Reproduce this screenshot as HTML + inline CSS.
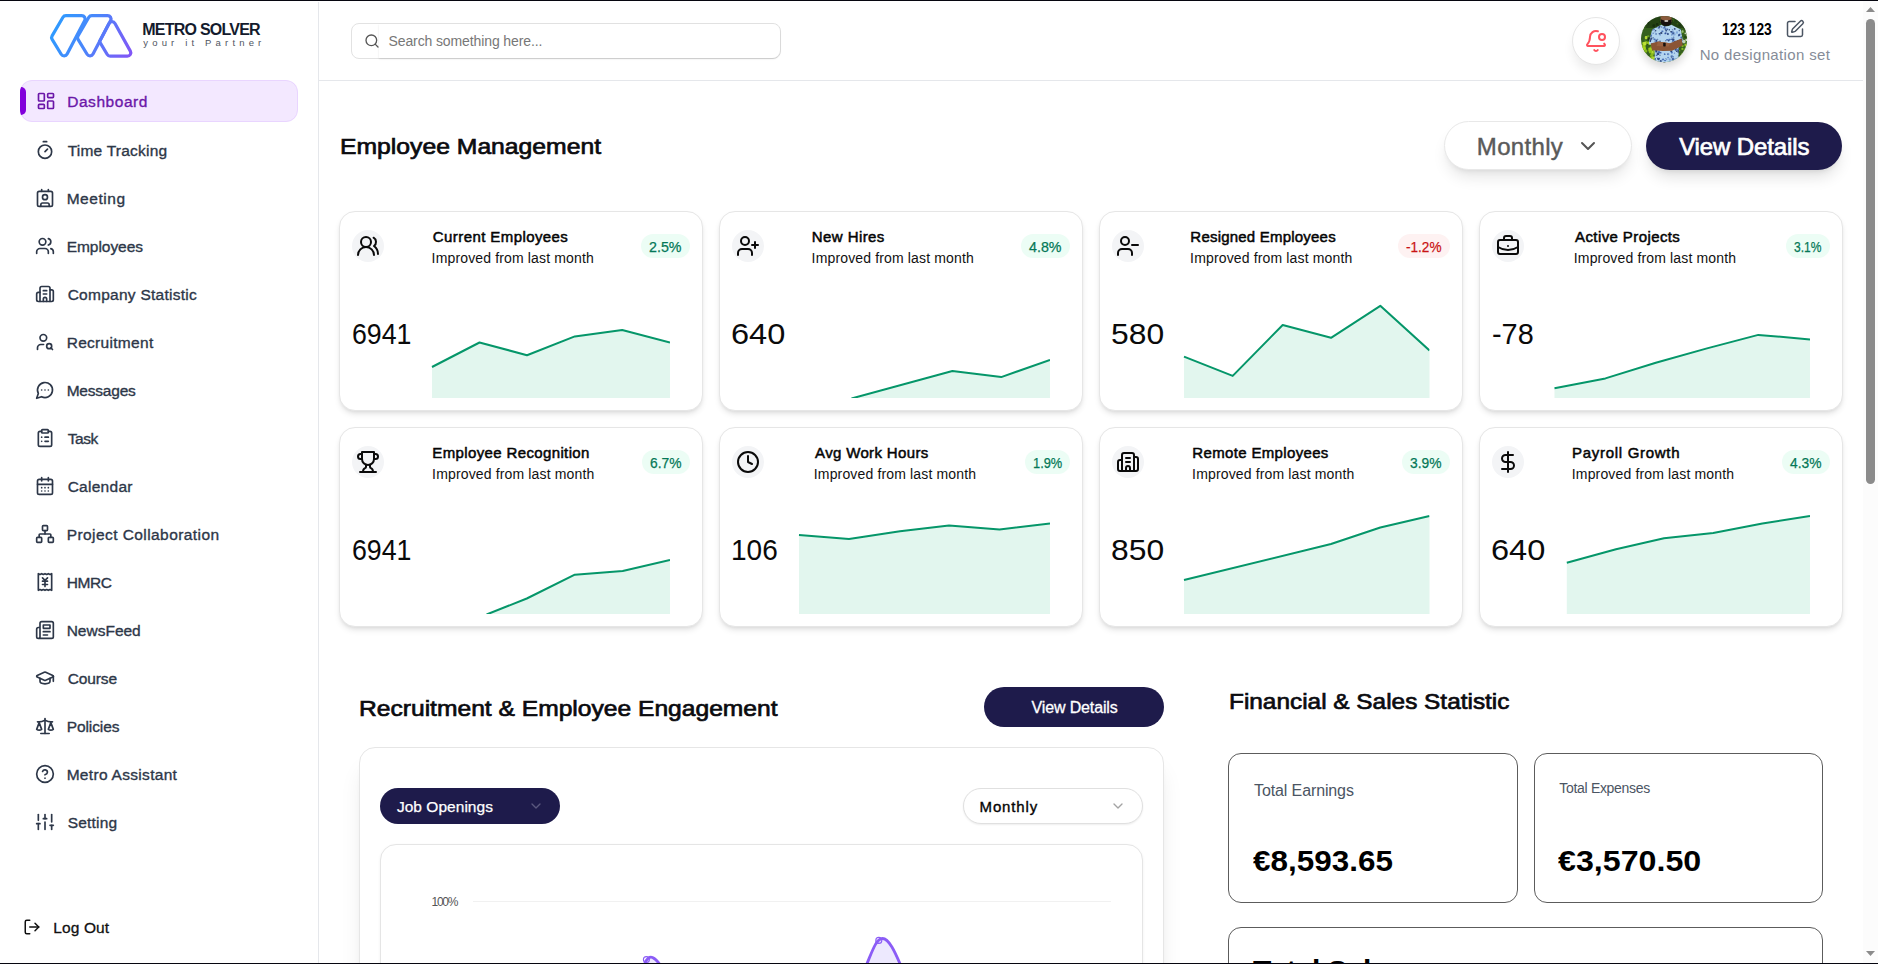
<!DOCTYPE html><html lang="en"><head><meta charset="utf-8"><title>Metro Solver - Dashboard</title><style>
html,body{margin:0;padding:0;width:1878px;height:964px;overflow:hidden;}
body{background:#fff;position:relative;font-family:"Liberation Sans", sans-serif;}
.app{position:absolute;left:0;top:0;width:1878px;height:964px;overflow:hidden;background:#fff;}
.t{position:absolute;white-space:pre;line-height:1;font-family:"Liberation Sans", sans-serif;}
svg{display:block;overflow:visible;}
</style></head><body><div class="app">
<aside>
<div style="position:absolute;left:318px;top:2px;width:1px;height:962px;background:#e5e7eb;"></div>
<svg style="position:absolute;left:0;top:0" width="320" height="80" viewBox="0 0 320 80" fill="none" stroke-width="3.2" stroke-linejoin="round" stroke-linecap="round"><defs><linearGradient id="lg" gradientUnits="userSpaceOnUse" x1="52" y1="20" x2="134" y2="56"><stop offset="0" stop-color="#2b9dff"/><stop offset="0.45" stop-color="#4a86fb"/><stop offset="1" stop-color="#8552f6"/></linearGradient></defs><g stroke="url(#lg)"><path d="M62.95 17.24 A3.4 3.4 0 0 1 65.89 15.55 L81.70 15.55 A3.4 3.4 0 0 1 84.71 20.53 L67.12 54.07 A3.4 3.4 0 0 1 61.20 54.27 L52.13 39.40 A3.4 3.4 0 0 1 52.10 35.92 Z"/><path d="M88.85 17.24 A3.4 3.4 0 0 1 91.79 15.55 L107.60 15.55 A3.4 3.4 0 0 1 110.61 20.53 L93.02 54.07 A3.4 3.4 0 0 1 87.10 54.27 L78.03 39.40 A3.4 3.4 0 0 1 78.00 35.92 Z"/><path d="M109.01 23.49 A3.4 3.4 0 0 1 114.99 23.43 L130.35 51.15 A3.4 3.4 0 0 1 127.37 56.20 L110.16 56.20 A3.4 3.4 0 0 1 107.24 54.54 L99.52 41.58 Z"/></g></svg>
<div style="position:absolute;left:20px;top:80px;width:278px;height:42px;background:#f3e8ff;border-radius:12px;overflow:hidden;"><div style="position:absolute;left:0;top:0;width:276px;height:40px;border:1px solid #e9d5ff;border-radius:12px;"></div><div style="position:absolute;left:0;top:7px;width:6px;height:28px;background:#8200db;border-radius:0 5px 5px 0;"></div></div>
<svg style="position:absolute;left:36.00px;top:91.20px;" width="20" height="20" viewBox="0 0 24 24" fill="none" stroke="#6b17a8" stroke-width="2" stroke-linecap="round" stroke-linejoin="round"><rect width="7" height="9" x="3" y="3" rx="1"/><rect width="7" height="5" x="14" y="3" rx="1"/><rect width="7" height="9" x="14" y="12" rx="1"/><rect width="7" height="5" x="3" y="16" rx="1"/></svg>
<svg style="position:absolute;left:35.00px;top:140.40px;" width="20" height="20" viewBox="0 0 24 24" fill="none" stroke="#2d3748" stroke-width="2" stroke-linecap="round" stroke-linejoin="round"><line x1="10" x2="14" y1="2" y2="2"/><line x1="12" x2="15" y1="14" y2="11"/><circle cx="12" cy="14" r="8"/></svg>
<svg style="position:absolute;left:35.00px;top:188.40px;" width="20" height="20" viewBox="0 0 24 24" fill="none" stroke="#2d3748" stroke-width="2" stroke-linecap="round" stroke-linejoin="round"><path d="M16 2v2"/><path d="M7 22v-2a2 2 0 0 1 2-2h6a2 2 0 0 1 2 2v2"/><path d="M8 2v2"/><circle cx="12" cy="11" r="3"/><rect x="3" y="4" width="18" height="18" rx="2"/></svg>
<svg style="position:absolute;left:35.00px;top:236.40px;" width="20" height="20" viewBox="0 0 24 24" fill="none" stroke="#2d3748" stroke-width="2" stroke-linecap="round" stroke-linejoin="round"><path d="M16 21v-2a4 4 0 0 0-4-4H6a4 4 0 0 0-4 4v2"/><circle cx="9" cy="7" r="4"/><path d="M22 21v-2a4 4 0 0 0-3-3.87"/><path d="M16 3.13a4 4 0 0 1 0 7.75"/></svg>
<svg style="position:absolute;left:35.00px;top:284.40px;" width="20" height="20" viewBox="0 0 24 24" fill="none" stroke="#2d3748" stroke-width="2" stroke-linecap="round" stroke-linejoin="round"><path d="M10 12h4"/><path d="M10 8h4"/><path d="M14 21v-3a2 2 0 0 0-4 0v3"/><path d="M6 10H4a2 2 0 0 0-2 2v7a2 2 0 0 0 2 2h16a2 2 0 0 0 2-2V9a2 2 0 0 0-2-2h-2"/><path d="M6 21V5a2 2 0 0 1 2-2h8a2 2 0 0 1 2 2v16"/></svg>
<svg style="position:absolute;left:35.00px;top:332.40px;" width="20" height="20" viewBox="0 0 24 24" fill="none" stroke="#2d3748" stroke-width="2" stroke-linecap="round" stroke-linejoin="round"><circle cx="10" cy="7" r="4"/><path d="M10.3 15H7a4 4 0 0 0-4 4v2"/><circle cx="17" cy="17" r="3"/><path d="m21 21-1.9-1.9"/></svg>
<svg style="position:absolute;left:35.00px;top:380.40px;" width="20" height="20" viewBox="0 0 24 24" fill="none" stroke="#2d3748" stroke-width="2" stroke-linecap="round" stroke-linejoin="round"><path d="M7.9 20A9 9 0 1 0 4 16.1L2 22Z"/><path d="M8 12h.01"/><path d="M12 12h.01"/><path d="M16 12h.01"/></svg>
<svg style="position:absolute;left:35.00px;top:428.40px;" width="20" height="20" viewBox="0 0 24 24" fill="none" stroke="#2d3748" stroke-width="2" stroke-linecap="round" stroke-linejoin="round"><rect width="8" height="4" x="8" y="2" rx="1" ry="1"/><path d="M16 4h2a2 2 0 0 1 2 2v14a2 2 0 0 1-2 2H6a2 2 0 0 1-2-2V6a2 2 0 0 1 2-2h2"/><path d="M12 11h4"/><path d="M12 16h4"/><path d="M8 11h.01"/><path d="M8 16h.01"/></svg>
<svg style="position:absolute;left:35.00px;top:476.40px;" width="20" height="20" viewBox="0 0 24 24" fill="none" stroke="#2d3748" stroke-width="2" stroke-linecap="round" stroke-linejoin="round"><path d="M8 2v4"/><path d="M16 2v4"/><rect width="18" height="18" x="3" y="4" rx="2"/><path d="M3 10h18"/><path d="M8 14h.01"/><path d="M12 14h.01"/><path d="M16 14h.01"/><path d="M8 18h.01"/><path d="M12 18h.01"/><path d="M16 18h.01"/></svg>
<svg style="position:absolute;left:35.00px;top:524.40px;" width="20" height="20" viewBox="0 0 24 24" fill="none" stroke="#2d3748" stroke-width="2" stroke-linecap="round" stroke-linejoin="round"><rect x="16" y="16" width="6" height="6" rx="1"/><rect x="2" y="16" width="6" height="6" rx="1"/><rect x="9" y="2" width="6" height="6" rx="1"/><path d="M5 16v-3a1 1 0 0 1 1-1h12a1 1 0 0 1 1 1v3"/><path d="M12 12V8"/></svg>
<svg style="position:absolute;left:35.00px;top:572.40px;" width="20" height="20" viewBox="0 0 24 24" fill="none" stroke="#2d3748" stroke-width="2" stroke-linecap="round" stroke-linejoin="round"><path d="M4 2v20l2-1 2 1 2-1 2 1 2-1 2 1 2-1 2 1V2l-2 1-2-1-2 1-2-1-2 1-2-1-2 1Z"/><path d="m12 10 3-3"/><path d="m9 7 3 3v7.5"/><path d="M9 11h6"/><path d="M9 15h6"/></svg>
<svg style="position:absolute;left:35.00px;top:620.40px;" width="20" height="20" viewBox="0 0 24 24" fill="none" stroke="#2d3748" stroke-width="2" stroke-linecap="round" stroke-linejoin="round"><path d="M4 22h16a2 2 0 0 0 2-2V4a2 2 0 0 0-2-2H8a2 2 0 0 0-2 2v16a2 2 0 0 1-2 2Zm0 0a2 2 0 0 1-2-2v-9c0-1.1.9-2 2-2h2"/><path d="M18 14h-8"/><path d="M15 18h-5"/><path d="M10 6h8v4h-8V6Z"/></svg>
<svg style="position:absolute;left:35.00px;top:668.40px;" width="20" height="20" viewBox="0 0 24 24" fill="none" stroke="#2d3748" stroke-width="2" stroke-linecap="round" stroke-linejoin="round"><path d="M21.42 10.922a1 1 0 0 0-.019-1.838L12.83 5.18a2 2 0 0 0-1.66 0L2.6 9.08a1 1 0 0 0 0 1.832l8.57 3.908a2 2 0 0 0 1.66 0z"/><path d="M22 10v6"/><path d="M6 12.5V16a6 3 0 0 0 12 0v-3.5"/></svg>
<svg style="position:absolute;left:35.00px;top:716.40px;" width="20" height="20" viewBox="0 0 24 24" fill="none" stroke="#2d3748" stroke-width="2" stroke-linecap="round" stroke-linejoin="round"><path d="m16 16 3-8 3 8c-.87.65-1.92 1-3 1s-2.13-.35-3-1Z"/><path d="m2 16 3-8 3 8c-.87.65-1.92 1-3 1s-2.13-.35-3-1Z"/><path d="M7 21h10"/><path d="M12 3v18"/><path d="M3 7h2c2 0 5-1 7-2 2 1 5 2 7 2h2"/></svg>
<svg style="position:absolute;left:35.00px;top:764.40px;" width="20" height="20" viewBox="0 0 24 24" fill="none" stroke="#2d3748" stroke-width="2" stroke-linecap="round" stroke-linejoin="round"><circle cx="12" cy="12" r="10"/><path d="M9.09 9a3 3 0 0 1 5.83 1c0 2-3 3-3 3"/><path d="M12 17h.01"/></svg>
<svg style="position:absolute;left:35.00px;top:812.40px;" width="20" height="20" viewBox="0 0 24 24" fill="none" stroke="#2d3748" stroke-width="2" stroke-linecap="round" stroke-linejoin="round"><line x1="4" x2="4" y1="21" y2="14"/><line x1="4" x2="4" y1="10" y2="3"/><line x1="12" x2="12" y1="21" y2="12"/><line x1="12" x2="12" y1="8" y2="3"/><line x1="20" x2="20" y1="21" y2="16"/><line x1="20" x2="20" y1="12" y2="3"/><line x1="2" x2="6" y1="14" y2="14"/><line x1="10" x2="14" y1="8" y2="8"/><line x1="18" x2="22" y1="16" y2="16"/></svg>
<svg style="position:absolute;left:23.00px;top:918.00px;" width="18" height="18" viewBox="0 0 24 24" fill="none" stroke="#111" stroke-width="2" stroke-linecap="round" stroke-linejoin="round"><path d="M9 21H5a2 2 0 0 1-2-2V5a2 2 0 0 1 2-2h4"/><polyline points="16 17 21 12 16 7"/><line x1="21" x2="9" y1="12" y2="12"/></svg>
<span class="t" style="left:142.30px;top:22px;font-size:16px;color:#141b2d;font-weight:700;letter-spacing:-0.770px;">METRO SOLVER</span>
<span class="t" style="left:143.30px;top:38px;font-size:9.5px;color:#4f5561;letter-spacing:4.164px;">your it Partner</span>
<span class="t" style="left:67.17px;top:94px;font-size:15.5px;color:#6b17a8;-webkit-text-stroke:0.35px #6b17a8;letter-spacing:0.555px;">Dashboard</span>
<span class="t" style="left:67.67px;top:143px;font-size:15.5px;color:#2d3748;-webkit-text-stroke:0.35px #2d3748;letter-spacing:0.234px;">Time Tracking</span>
<span class="t" style="left:66.67px;top:191px;font-size:15.5px;color:#2d3748;-webkit-text-stroke:0.35px #2d3748;letter-spacing:0.552px;">Meeting</span>
<span class="t" style="left:66.67px;top:239px;font-size:15.5px;color:#2d3748;-webkit-text-stroke:0.35px #2d3748;letter-spacing:-0.036px;">Employees</span>
<span class="t" style="left:67.67px;top:287px;font-size:15.5px;color:#2d3748;-webkit-text-stroke:0.35px #2d3748;letter-spacing:0.261px;">Company Statistic</span>
<span class="t" style="left:66.67px;top:335px;font-size:15.5px;color:#2d3748;-webkit-text-stroke:0.35px #2d3748;letter-spacing:0.299px;">Recruitment</span>
<span class="t" style="left:66.67px;top:383px;font-size:15.5px;color:#2d3748;-webkit-text-stroke:0.35px #2d3748;letter-spacing:-0.208px;">Messages</span>
<span class="t" style="left:67.67px;top:431px;font-size:15.5px;color:#2d3748;-webkit-text-stroke:0.35px #2d3748;letter-spacing:-0.425px;">Task</span>
<span class="t" style="left:67.67px;top:479px;font-size:15.5px;color:#2d3748;-webkit-text-stroke:0.35px #2d3748;letter-spacing:0.272px;">Calendar</span>
<span class="t" style="left:66.67px;top:527px;font-size:15.5px;color:#2d3748;-webkit-text-stroke:0.35px #2d3748;letter-spacing:0.429px;">Project Collaboration</span>
<span class="t" style="left:66.67px;top:575px;font-size:15.5px;color:#2d3748;-webkit-text-stroke:0.35px #2d3748;letter-spacing:-0.385px;">HMRC</span>
<span class="t" style="left:66.67px;top:623px;font-size:15.5px;color:#2d3748;-webkit-text-stroke:0.35px #2d3748;">NewsFeed</span>
<span class="t" style="left:67.67px;top:671px;font-size:15.5px;color:#2d3748;-webkit-text-stroke:0.35px #2d3748;letter-spacing:-0.100px;">Course</span>
<span class="t" style="left:66.67px;top:719px;font-size:15.5px;color:#2d3748;-webkit-text-stroke:0.35px #2d3748;letter-spacing:-0.089px;">Policies</span>
<span class="t" style="left:66.67px;top:767px;font-size:15.5px;color:#2d3748;-webkit-text-stroke:0.35px #2d3748;letter-spacing:0.306px;">Metro Assistant</span>
<span class="t" style="left:67.67px;top:815px;font-size:15.5px;color:#2d3748;-webkit-text-stroke:0.35px #2d3748;letter-spacing:0.201px;">Setting</span>
<span class="t" style="left:53.15px;top:920px;font-size:15.5px;color:#111;-webkit-text-stroke:0.3px #111;letter-spacing:0.142px;">Log Out</span>
</aside>
<header>
<div style="position:absolute;left:319px;top:80px;width:1544px;height:1px;background:#e5e7eb;"></div>
<div style="position:absolute;left:351px;top:23px;width:428px;height:34px;border:1px solid #e2e2e2;border-radius:8px;background:#fff;"></div>
<div style="position:absolute;left:379px;top:24px;width:401px;height:34px;background:#fff;border-radius:0 8px 8px 0;box-shadow:0 1px 2px rgba(0,0,0,0.12);"></div>
<svg style="position:absolute;left:364.00px;top:33.10px;" width="16" height="16" viewBox="0 0 24 24" fill="none" stroke="#555" stroke-width="2" stroke-linecap="round" stroke-linejoin="round"><circle cx="11" cy="11" r="8"/><path d="m21 21-4.3-4.3"/></svg>
<div style="position:absolute;left:1572px;top:17px;width:46px;height:46px;border:1px solid #e6e6e6;border-radius:50%;background:#fff;box-shadow:0 8px 12px -2px rgba(0,0,0,0.09);"></div>
<svg style="position:absolute;left:1584.00px;top:29.00px;" width="24" height="24" viewBox="0 0 24 24" fill="none" stroke="#ff525e" stroke-width="2" stroke-linecap="round" stroke-linejoin="round"><path d="M10.268 21a2 2 0 0 0 3.464 0"/><path d="M13.916 2.314A6 6 0 0 0 6 8c0 4.499-1.411 5.956-2.74 7.327A1 1 0 0 0 4 17h16a1 1 0 0 0 .74-1.673 9 9 0 0 1-.585-.665"/><circle cx="18" cy="8" r="3"/></svg>
<div style="position:absolute;left:1640.8px;top:15.7px;width:46.2px;height:46.2px;border-radius:50%;box-shadow:0 5px 9px rgba(0,0,0,0.16);"></div>
<svg style="position:absolute;left:1640.8px;top:15.7px" width="46.2" height="46.2" viewBox="0 0 46.2 46.2"><defs><clipPath id="avc"><circle cx="23.1" cy="23.1" r="23.1"/></clipPath><clipPath id="avs"><path d="M11.2 13.4 L20.3 8.8 Q25 11.8 30.4 8.8 L39.8 13.4 L42 25.5 L40.8 28 L8.2 28.5 L8 26 Z M13.7 31 H37.6 V46.2 H13.7 Z"/></clipPath></defs><g clip-path="url(#avc)"><rect width="46.2" height="46.2" fill="#35601d"/><rect x="14.9" y="6.9" width="2.5" height="2.8" rx="0.8" fill="#1a3311" opacity="0.9"/><rect x="4.3" y="26.8" width="3.0" height="2.2" rx="1.0" fill="#234516" opacity="0.9"/><rect x="19.9" y="3.2" width="1.4" height="1.0" rx="0.5" fill="#2c5419" opacity="0.9"/><rect x="26.0" y="43.6" width="2.5" height="2.9" rx="0.8" fill="#6aa322" opacity="0.9"/><rect x="26.5" y="18.2" width="3.2" height="3.1" rx="1.1" fill="#1a3311" opacity="0.9"/><rect x="6.1" y="19.3" width="2.3" height="1.9" rx="0.8" fill="#6aa322" opacity="0.9"/><rect x="37.5" y="8.3" width="2.4" height="2.1" rx="0.8" fill="#234516" opacity="0.9"/><rect x="25.2" y="2.9" width="1.3" height="1.3" rx="0.4" fill="#234516" opacity="0.9"/><rect x="24.5" y="35.8" width="2.1" height="1.9" rx="0.7" fill="#2c5419" opacity="0.9"/><rect x="11.4" y="8.3" width="2.8" height="2.7" rx="0.9" fill="#1a3311" opacity="0.9"/><rect x="24.2" y="40.3" width="2.7" height="2.7" rx="0.9" fill="#4f8a22" opacity="0.9"/><rect x="3.4" y="23.5" width="1.5" height="1.2" rx="0.5" fill="#4f8a22" opacity="0.9"/><rect x="22.5" y="1.8" width="2.5" height="2.5" rx="0.8" fill="#6aa322" opacity="0.9"/><rect x="40.3" y="14.4" width="2.6" height="2.5" rx="0.9" fill="#6aa322" opacity="0.9"/><rect x="36.7" y="3.2" width="1.4" height="1.3" rx="0.5" fill="#4f8a22" opacity="0.9"/><rect x="30.6" y="2.8" width="2.6" height="3.1" rx="0.9" fill="#6aa322" opacity="0.9"/><rect x="37.8" y="13.1" width="2.0" height="1.4" rx="0.7" fill="#4f8a22" opacity="0.9"/><rect x="21.2" y="7.7" width="1.4" height="1.2" rx="0.5" fill="#1a3311" opacity="0.9"/><rect x="13.2" y="34.0" width="2.0" height="1.5" rx="0.7" fill="#2c5419" opacity="0.9"/><rect x="20.7" y="25.3" width="3.0" height="3.4" rx="1.0" fill="#2c5419" opacity="0.9"/><rect x="12.8" y="19.1" width="1.9" height="2.3" rx="0.6" fill="#2c5419" opacity="0.9"/><rect x="6.9" y="8.1" width="1.7" height="1.2" rx="0.6" fill="#234516" opacity="0.9"/><rect x="38.2" y="8.4" width="1.8" height="1.6" rx="0.6" fill="#234516" opacity="0.9"/><rect x="17.0" y="26.1" width="3.1" height="3.7" rx="1.0" fill="#6aa322" opacity="0.9"/><rect x="30.1" y="34.0" width="2.1" height="1.9" rx="0.7" fill="#6aa322" opacity="0.9"/><rect x="18.4" y="4.8" width="2.5" height="2.0" rx="0.8" fill="#1a3311" opacity="0.9"/><rect x="45.3" y="20.3" width="1.4" height="1.0" rx="0.5" fill="#6aa322" opacity="0.9"/><rect x="0.0" y="7.0" width="1.4" height="1.4" rx="0.5" fill="#4f8a22" opacity="0.9"/><rect x="3.2" y="9.6" width="2.0" height="2.3" rx="0.7" fill="#4f8a22" opacity="0.9"/><rect x="27.7" y="21.8" width="1.4" height="1.7" rx="0.5" fill="#2c5419" opacity="0.9"/><rect x="21.4" y="22.3" width="1.4" height="1.5" rx="0.5" fill="#1a3311" opacity="0.9"/><rect x="34.1" y="22.0" width="2.6" height="1.8" rx="0.9" fill="#6aa322" opacity="0.9"/><rect x="43.7" y="24.3" width="1.5" height="1.7" rx="0.5" fill="#6aa322" opacity="0.9"/><rect x="34.9" y="13.7" width="2.5" height="2.6" rx="0.8" fill="#1a3311" opacity="0.9"/><rect x="12.0" y="16.9" width="1.5" height="1.5" rx="0.5" fill="#234516" opacity="0.9"/><rect x="35.8" y="15.2" width="1.6" height="1.8" rx="0.5" fill="#234516" opacity="0.9"/><rect x="37.6" y="34.0" width="1.7" height="1.6" rx="0.6" fill="#6aa322" opacity="0.9"/><rect x="33.6" y="45.5" width="2.8" height="2.3" rx="0.9" fill="#2c5419" opacity="0.9"/><rect x="31.9" y="44.0" width="2.1" height="2.5" rx="0.7" fill="#4f8a22" opacity="0.9"/><rect x="16.8" y="10.1" width="1.7" height="1.4" rx="0.6" fill="#234516" opacity="0.9"/><rect x="22.2" y="45.3" width="2.4" height="2.3" rx="0.8" fill="#1a3311" opacity="0.9"/><rect x="30.0" y="36.8" width="1.4" height="1.6" rx="0.5" fill="#1a3311" opacity="0.9"/><rect x="36.0" y="34.5" width="2.2" height="2.0" rx="0.7" fill="#234516" opacity="0.9"/><rect x="29.2" y="4.0" width="3.1" height="2.9" rx="1.0" fill="#2c5419" opacity="0.9"/><rect x="34.2" y="3.9" width="1.5" height="1.1" rx="0.5" fill="#234516" opacity="0.9"/><rect x="27.2" y="21.4" width="2.5" height="2.8" rx="0.8" fill="#6aa322" opacity="0.9"/><rect x="45.1" y="30.2" width="1.9" height="1.9" rx="0.6" fill="#6aa322" opacity="0.9"/><rect x="1.0" y="36.8" width="2.7" height="2.6" rx="0.9" fill="#1a3311" opacity="0.9"/><rect x="42.9" y="20.0" width="2.9" height="2.1" rx="1.0" fill="#234516" opacity="0.9"/><rect x="9.8" y="23.1" width="2.7" height="2.3" rx="0.9" fill="#4f8a22" opacity="0.9"/><rect x="19.3" y="6.0" width="3.0" height="3.5" rx="1.0" fill="#4f8a22" opacity="0.9"/><rect x="30.5" y="37.5" width="2.2" height="1.7" rx="0.7" fill="#6aa322" opacity="0.9"/><rect x="7.0" y="23.5" width="2.9" height="3.0" rx="1.0" fill="#234516" opacity="0.9"/><rect x="35.7" y="6.9" width="1.5" height="1.6" rx="0.5" fill="#6aa322" opacity="0.9"/><rect x="25.6" y="15.0" width="2.2" height="2.1" rx="0.7" fill="#6aa322" opacity="0.9"/><rect x="35.7" y="40.6" width="1.3" height="1.1" rx="0.4" fill="#234516" opacity="0.9"/><rect x="35.5" y="23.4" width="2.3" height="2.1" rx="0.8" fill="#1a3311" opacity="0.9"/><rect x="28.2" y="23.3" width="2.2" height="2.1" rx="0.7" fill="#4f8a22" opacity="0.9"/><rect x="24.5" y="22.0" width="3.1" height="3.5" rx="1.0" fill="#6aa322" opacity="0.9"/><rect x="43.3" y="11.9" width="2.3" height="2.6" rx="0.8" fill="#234516" opacity="0.9"/><rect x="6.3" y="5.6" width="2.1" height="2.2" rx="0.7" fill="#1a3311" opacity="0.9"/><rect x="19.7" y="9.8" width="1.8" height="2.1" rx="0.6" fill="#1a3311" opacity="0.9"/><rect x="7.1" y="32.9" width="2.5" height="2.1" rx="0.8" fill="#234516" opacity="0.9"/><rect x="6.3" y="21.5" width="2.7" height="2.4" rx="0.9" fill="#1a3311" opacity="0.9"/><rect x="22.4" y="45.5" width="2.9" height="3.0" rx="1.0" fill="#234516" opacity="0.9"/><rect x="45.7" y="18.6" width="2.0" height="1.8" rx="0.7" fill="#4f8a22" opacity="0.9"/><rect x="33.2" y="0.9" width="2.3" height="2.4" rx="0.8" fill="#2c5419" opacity="0.9"/><rect x="17.7" y="23.8" width="1.8" height="1.4" rx="0.6" fill="#1a3311" opacity="0.9"/><rect x="42.3" y="10.5" width="3.0" height="2.5" rx="1.0" fill="#1a3311" opacity="0.9"/><rect x="1.8" y="35.8" width="1.7" height="1.9" rx="0.6" fill="#234516" opacity="0.9"/><rect x="0" y="0" width="46.2" height="12" fill="#14280d" opacity="0.55"/><rect x="11.9" y="35.5" width="3.9" height="3.0" rx="1.3" fill="#6c9f1c" opacity="0.9"/><rect x="12.9" y="33.1" width="3.3" height="2.8" rx="1.1" fill="#a9d61c" opacity="0.9"/><rect x="11.2" y="24.2" width="3.8" height="4.4" rx="1.3" fill="#c2e43a" opacity="0.9"/><rect x="8.9" y="38.4" width="2.0" height="1.5" rx="0.7" fill="#8fc218" opacity="0.9"/><rect x="12.1" y="30.4" width="2.5" height="2.3" rx="0.8" fill="#b5dc2a" opacity="0.9"/><rect x="12.8" y="34.3" width="1.9" height="2.2" rx="0.6" fill="#8fc218" opacity="0.9"/><rect x="13.6" y="26.0" width="2.2" height="2.2" rx="0.7" fill="#c2e43a" opacity="0.9"/><rect x="7.4" y="24.7" width="2.8" height="2.3" rx="0.9" fill="#8fc218" opacity="0.9"/><rect x="11.3" y="42.9" width="1.9" height="2.0" rx="0.6" fill="#a9d61c" opacity="0.9"/><rect x="7.7" y="24.4" width="2.8" height="2.1" rx="0.9" fill="#6c9f1c" opacity="0.9"/><rect x="11.5" y="29.9" width="2.9" height="3.4" rx="1.0" fill="#6c9f1c" opacity="0.9"/><rect x="4.3" y="24.9" width="2.3" height="2.6" rx="0.8" fill="#8fc218" opacity="0.9"/><rect x="9.9" y="34.6" width="2.7" height="3.2" rx="0.9" fill="#c2e43a" opacity="0.9"/><rect x="11.7" y="20.3" width="3.2" height="2.9" rx="1.1" fill="#c2e43a" opacity="0.9"/><rect x="0.8" y="35.3" width="2.6" height="2.7" rx="0.9" fill="#b5dc2a" opacity="0.9"/><rect x="3.9" y="25.6" width="2.4" height="1.9" rx="0.8" fill="#6c9f1c" opacity="0.9"/><rect x="3.8" y="20.1" width="2.6" height="3.1" rx="0.9" fill="#c2e43a" opacity="0.9"/><rect x="7.7" y="25.6" width="3.9" height="3.2" rx="1.3" fill="#c2e43a" opacity="0.9"/><rect x="2.6" y="27.7" width="2.0" height="1.9" rx="0.7" fill="#c2e43a" opacity="0.9"/><rect x="2.8" y="31.6" width="1.8" height="2.0" rx="0.6" fill="#c2e43a" opacity="0.9"/><rect x="2.0" y="33.5" width="2.7" height="2.3" rx="0.9" fill="#c2e43a" opacity="0.9"/><rect x="3.3" y="33.5" width="3.0" height="3.0" rx="1.0" fill="#8fc218" opacity="0.9"/><rect x="10.0" y="40.2" width="2.7" height="2.8" rx="0.9" fill="#c2e43a" opacity="0.9"/><rect x="6.9" y="26.5" width="3.2" height="2.3" rx="1.1" fill="#8fc218" opacity="0.9"/><rect x="11.7" y="40.5" width="3.2" height="2.4" rx="1.1" fill="#b5dc2a" opacity="0.9"/><rect x="7.3" y="31.6" width="3.6" height="4.0" rx="1.2" fill="#a9d61c" opacity="0.9"/><rect x="8.2" y="40.5" width="3.3" height="2.5" rx="1.1" fill="#8fc218" opacity="0.9"/><rect x="0.6" y="34.7" width="3.9" height="4.4" rx="1.3" fill="#6c9f1c" opacity="0.9"/><rect x="7.8" y="34.4" width="3.2" height="3.0" rx="1.1" fill="#8fc218" opacity="0.9"/><rect x="0.0" y="38.3" width="3.4" height="4.0" rx="1.1" fill="#b5dc2a" opacity="0.9"/><rect x="1.3" y="32.1" width="3.4" height="2.8" rx="1.1" fill="#6c9f1c" opacity="0.9"/><rect x="1.0" y="26.1" width="3.4" height="2.8" rx="1.1" fill="#8fc218" opacity="0.9"/><rect x="9.1" y="30.6" width="3.7" height="3.4" rx="1.2" fill="#a9d61c" opacity="0.9"/><rect x="9.6" y="37.6" width="3.2" height="2.3" rx="1.1" fill="#8fc218" opacity="0.9"/><rect x="2.1" y="25.8" width="3.4" height="3.5" rx="1.1" fill="#c2e43a" opacity="0.9"/><rect x="1.9" y="31.1" width="2.9" height="3.0" rx="1.0" fill="#a9d61c" opacity="0.9"/><rect x="9.5" y="26.7" width="2.9" height="2.7" rx="1.0" fill="#6c9f1c" opacity="0.9"/><rect x="10.7" y="42.8" width="3.0" height="3.6" rx="1.0" fill="#c2e43a" opacity="0.9"/><rect x="13.1" y="20.4" width="2.8" height="3.3" rx="0.9" fill="#b5dc2a" opacity="0.9"/><rect x="6.3" y="26.2" width="2.3" height="1.7" rx="0.8" fill="#8fc218" opacity="0.9"/><rect x="1.3" y="37.2" width="2.4" height="1.8" rx="0.8" fill="#c2e43a" opacity="0.9"/><rect x="11.5" y="31.7" width="3.8" height="3.1" rx="1.3" fill="#c2e43a" opacity="0.9"/><rect x="12.6" y="31.2" width="1.9" height="2.2" rx="0.6" fill="#a9d61c" opacity="0.9"/><rect x="9.5" y="29.3" width="3.4" height="3.0" rx="1.1" fill="#6c9f1c" opacity="0.9"/><rect x="4.4" y="39.3" width="1.8" height="2.0" rx="0.6" fill="#c2e43a" opacity="0.9"/><rect x="1.7" y="41.3" width="3.4" height="2.8" rx="1.1" fill="#c2e43a" opacity="0.9"/><rect x="0.9" y="29.0" width="3.7" height="3.3" rx="1.2" fill="#a9d61c" opacity="0.9"/><rect x="6.0" y="26.3" width="1.9" height="1.4" rx="0.6" fill="#a9d61c" opacity="0.9"/><rect x="43.0" y="36.5" width="1.8" height="1.6" rx="0.6" fill="#a2cf25" opacity="0.9"/><rect x="39.8" y="38.6" width="2.8" height="3.2" rx="0.9" fill="#a2cf25" opacity="0.9"/><rect x="44.3" y="36.5" width="3.1" height="3.0" rx="1.0" fill="#4f8a22" opacity="0.9"/><rect x="43.5" y="27.7" width="2.7" height="2.8" rx="0.9" fill="#a2cf25" opacity="0.9"/><rect x="38.2" y="40.0" width="2.3" height="1.8" rx="0.8" fill="#4f8a22" opacity="0.9"/><rect x="41.2" y="32.2" width="2.0" height="2.1" rx="0.7" fill="#4f8a22" opacity="0.9"/><rect x="42.9" y="33.1" width="1.9" height="1.9" rx="0.6" fill="#a2cf25" opacity="0.9"/><rect x="40.5" y="29.5" width="1.8" height="1.7" rx="0.6" fill="#86bb1d" opacity="0.9"/><rect x="44.3" y="35.3" width="2.3" height="2.7" rx="0.8" fill="#a2cf25" opacity="0.9"/><rect x="41.0" y="29.1" width="1.8" height="1.4" rx="0.6" fill="#86bb1d" opacity="0.9"/><rect x="42.0" y="31.8" width="2.1" height="1.7" rx="0.7" fill="#4f8a22" opacity="0.9"/><rect x="37.2" y="40.1" width="2.2" height="2.1" rx="0.7" fill="#4f8a22" opacity="0.9"/><rect x="40.4" y="32.1" width="1.6" height="1.6" rx="0.5" fill="#a2cf25" opacity="0.9"/><rect x="40.2" y="37.3" width="2.4" height="1.8" rx="0.8" fill="#86bb1d" opacity="0.9"/><rect x="45.3" y="17.6" width="2.5" height="2.9" rx="0.8" fill="#cfdcc4" opacity="0.9"/><rect x="44.9" y="23.5" width="1.5" height="1.4" rx="0.5" fill="#e9efe2" opacity="0.9"/><rect x="44.3" y="22.7" width="3.0" height="2.1" rx="1.0" fill="#cfdcc4" opacity="0.9"/><rect x="41.7" y="24.1" width="2.7" height="3.2" rx="0.9" fill="#cfdcc4" opacity="0.9"/><rect x="40.7" y="14.3" width="1.7" height="2.1" rx="0.6" fill="#9db98a" opacity="0.9"/><rect x="39.8" y="22.9" width="2.6" height="1.9" rx="0.9" fill="#cfdcc4" opacity="0.9"/><rect x="44.4" y="13.0" width="1.7" height="2.0" rx="0.6" fill="#9db98a" opacity="0.9"/><rect x="43.5" y="16.6" width="1.7" height="1.6" rx="0.6" fill="#cfdcc4" opacity="0.9"/><path d="M19.6 0 H30.6 V6 H19.6 Z" fill="#8a5a3c"/><path d="M19.8 3.2 Q25 5.6 30.6 3.2 L30.2 8 Q25 11.8 20.2 8 Z" fill="#17110f"/><rect x="23.4" y="4.3" width="3.8" height="1.4" rx="0.6" fill="#f3ece6"/><path d="M11.2 13.4 L20.3 8.8 Q25 11.8 30.4 8.8 L39.8 13.4 L42 25.5 L40.8 28 L8.2 28.5 L8 26 Z M13.7 31 H37.6 V46.2 H13.7 Z" fill="#b4d5ef"/><g clip-path="url(#avs)"><rect x="22.9" y="37.3" width="1.0" height="1.0" rx="0.3" fill="#5a82c8" opacity="0.85"/><rect x="27.8" y="23.4" width="1.2" height="0.8" rx="0.4" fill="#7ea6da" opacity="0.85"/><rect x="26.3" y="45.9" width="1.3" height="1.3" rx="0.4" fill="#5a82c8" opacity="0.85"/><rect x="38.0" y="26.6" width="1.2" height="0.9" rx="0.4" fill="#3b62b0" opacity="0.85"/><rect x="22.0" y="33.0" width="1.0" height="0.9" rx="0.3" fill="#3b62b0" opacity="0.85"/><rect x="30.9" y="24.5" width="1.3" height="1.1" rx="0.4" fill="#1f3568" opacity="0.85"/><rect x="20.6" y="27.2" width="1.9" height="1.7" rx="0.6" fill="#1f3568" opacity="0.85"/><rect x="31.2" y="16.3" width="2.0" height="2.3" rx="0.7" fill="#1f3568" opacity="0.85"/><rect x="10.3" y="27.3" width="1.2" height="1.0" rx="0.4" fill="#3b62b0" opacity="0.85"/><rect x="15.5" y="37.1" width="1.3" height="1.2" rx="0.4" fill="#7ea6da" opacity="0.85"/><rect x="14.4" y="17.3" width="1.5" height="1.1" rx="0.5" fill="#1f3568" opacity="0.85"/><rect x="28.2" y="43.1" width="1.0" height="1.2" rx="0.3" fill="#2f4f9a" opacity="0.85"/><rect x="12.8" y="10.9" width="1.0" height="0.9" rx="0.3" fill="#24407f" opacity="0.85"/><rect x="32.2" y="20.6" width="1.1" height="1.2" rx="0.4" fill="#2f4f9a" opacity="0.85"/><rect x="19.2" y="15.9" width="2.2" height="2.1" rx="0.7" fill="#1f3568" opacity="0.85"/><rect x="18.6" y="35.8" width="2.1" height="1.9" rx="0.7" fill="#5a82c8" opacity="0.85"/><rect x="11.7" y="11.9" width="1.0" height="1.2" rx="0.3" fill="#24407f" opacity="0.85"/><rect x="12.2" y="44.7" width="1.2" height="1.3" rx="0.4" fill="#5a82c8" opacity="0.85"/><rect x="18.5" y="38.7" width="1.0" height="1.0" rx="0.3" fill="#1f3568" opacity="0.85"/><rect x="20.7" y="43.0" width="1.2" height="1.3" rx="0.4" fill="#5a82c8" opacity="0.85"/><rect x="24.1" y="32.4" width="1.2" height="1.4" rx="0.4" fill="#1f3568" opacity="0.85"/><rect x="9.4" y="10.3" width="1.0" height="0.8" rx="0.3" fill="#2f4f9a" opacity="0.85"/><rect x="33.4" y="42.2" width="1.4" height="1.2" rx="0.5" fill="#5a82c8" opacity="0.85"/><rect x="40.4" y="10.6" width="1.9" height="1.7" rx="0.6" fill="#1f3568" opacity="0.85"/><rect x="17.4" y="9.1" width="2.0" height="2.3" rx="0.7" fill="#1f3568" opacity="0.85"/><rect x="10.2" y="39.6" width="1.1" height="1.2" rx="0.4" fill="#1f3568" opacity="0.85"/><rect x="40.4" y="23.3" width="1.3" height="1.4" rx="0.4" fill="#24407f" opacity="0.85"/><rect x="12.5" y="27.4" width="0.9" height="0.8" rx="0.3" fill="#1f3568" opacity="0.85"/><rect x="31.5" y="14.6" width="1.2" height="1.1" rx="0.4" fill="#5a82c8" opacity="0.85"/><rect x="34.7" y="31.0" width="1.6" height="1.7" rx="0.5" fill="#24407f" opacity="0.85"/><rect x="16.4" y="11.4" width="0.9" height="0.9" rx="0.3" fill="#7ea6da" opacity="0.85"/><rect x="13.5" y="24.8" width="1.0" height="0.9" rx="0.3" fill="#2f4f9a" opacity="0.85"/><rect x="10.9" y="12.6" width="1.6" height="1.9" rx="0.5" fill="#1f3568" opacity="0.85"/><rect x="13.9" y="13.9" width="1.5" height="1.3" rx="0.5" fill="#1f3568" opacity="0.85"/><rect x="26.3" y="37.6" width="2.0" height="1.7" rx="0.7" fill="#5a82c8" opacity="0.85"/><rect x="27.3" y="22.8" width="1.9" height="1.8" rx="0.6" fill="#3b62b0" opacity="0.85"/><rect x="14.3" y="17.7" width="1.3" height="1.0" rx="0.4" fill="#7ea6da" opacity="0.85"/><rect x="10.2" y="18.3" width="1.2" height="1.0" rx="0.4" fill="#7ea6da" opacity="0.85"/><rect x="35.5" y="33.2" width="2.3" height="1.6" rx="0.8" fill="#2f4f9a" opacity="0.85"/><rect x="38.0" y="17.6" width="1.5" height="1.1" rx="0.5" fill="#5a82c8" opacity="0.85"/><rect x="18.0" y="13.4" width="1.2" height="0.9" rx="0.4" fill="#7ea6da" opacity="0.85"/><rect x="10.6" y="28.0" width="1.1" height="1.0" rx="0.4" fill="#7ea6da" opacity="0.85"/><rect x="34.4" y="44.0" width="1.0" height="1.1" rx="0.3" fill="#7ea6da" opacity="0.85"/><rect x="19.9" y="10.4" width="1.4" height="1.1" rx="0.5" fill="#2f4f9a" opacity="0.85"/><rect x="16.7" y="31.2" width="1.8" height="2.0" rx="0.6" fill="#3b62b0" opacity="0.85"/><rect x="35.8" y="24.1" width="1.4" height="1.2" rx="0.5" fill="#7ea6da" opacity="0.85"/><rect x="14.9" y="38.4" width="1.7" height="1.5" rx="0.6" fill="#2f4f9a" opacity="0.85"/><rect x="35.1" y="33.6" width="1.1" height="0.8" rx="0.4" fill="#7ea6da" opacity="0.85"/><rect x="13.6" y="34.7" width="1.5" height="1.5" rx="0.5" fill="#5a82c8" opacity="0.85"/><rect x="22.2" y="10.9" width="1.9" height="1.8" rx="0.6" fill="#5a82c8" opacity="0.85"/><rect x="8.6" y="37.4" width="2.0" height="1.6" rx="0.7" fill="#1f3568" opacity="0.85"/><rect x="32.8" y="16.5" width="0.9" height="0.8" rx="0.3" fill="#3b62b0" opacity="0.85"/><rect x="35.9" y="24.0" width="2.1" height="2.3" rx="0.7" fill="#24407f" opacity="0.85"/><rect x="12.4" y="10.9" width="1.1" height="0.8" rx="0.4" fill="#24407f" opacity="0.85"/><rect x="29.2" y="22.7" width="1.6" height="1.4" rx="0.5" fill="#3b62b0" opacity="0.85"/><rect x="13.5" y="15.4" width="1.0" height="0.9" rx="0.3" fill="#24407f" opacity="0.85"/><rect x="35.4" y="44.8" width="1.2" height="1.3" rx="0.4" fill="#3b62b0" opacity="0.85"/><rect x="9.5" y="42.8" width="1.3" height="1.6" rx="0.4" fill="#7ea6da" opacity="0.85"/><rect x="21.2" y="42.5" width="1.8" height="1.8" rx="0.6" fill="#3b62b0" opacity="0.85"/><rect x="37.1" y="32.0" width="1.8" height="2.0" rx="0.6" fill="#3b62b0" opacity="0.85"/><rect x="14.2" y="17.1" width="1.5" height="1.1" rx="0.5" fill="#7ea6da" opacity="0.85"/><rect x="20.2" y="14.5" width="2.3" height="1.6" rx="0.8" fill="#3b62b0" opacity="0.85"/><rect x="27.1" y="37.0" width="1.0" height="0.7" rx="0.3" fill="#5a82c8" opacity="0.85"/><rect x="28.4" y="29.4" width="1.8" height="1.8" rx="0.6" fill="#5a82c8" opacity="0.85"/><rect x="18.5" y="18.2" width="1.4" height="1.3" rx="0.5" fill="#5a82c8" opacity="0.85"/><rect x="22.9" y="9.9" width="1.8" height="1.6" rx="0.6" fill="#24407f" opacity="0.85"/><rect x="23.2" y="31.9" width="2.0" height="2.3" rx="0.7" fill="#3b62b0" opacity="0.85"/><rect x="21.6" y="11.5" width="1.4" height="1.0" rx="0.5" fill="#5a82c8" opacity="0.85"/><rect x="23.0" y="27.9" width="1.0" height="0.7" rx="0.3" fill="#1f3568" opacity="0.85"/><rect x="39.4" y="20.6" width="1.9" height="1.4" rx="0.6" fill="#2f4f9a" opacity="0.85"/><rect x="25.1" y="23.0" width="2.2" height="1.6" rx="0.7" fill="#3b62b0" opacity="0.85"/><rect x="10.3" y="31.7" width="1.9" height="1.5" rx="0.6" fill="#2f4f9a" opacity="0.85"/><rect x="41.4" y="27.2" width="2.2" height="2.3" rx="0.7" fill="#3b62b0" opacity="0.85"/><rect x="32.5" y="17.2" width="2.1" height="2.2" rx="0.7" fill="#7ea6da" opacity="0.85"/><rect x="13.4" y="42.2" width="1.3" height="1.0" rx="0.4" fill="#24407f" opacity="0.85"/><rect x="25.1" y="43.0" width="1.2" height="1.2" rx="0.4" fill="#5a82c8" opacity="0.85"/><rect x="16.1" y="22.8" width="1.2" height="0.9" rx="0.4" fill="#24407f" opacity="0.85"/><rect x="39.8" y="34.1" width="2.2" height="2.4" rx="0.7" fill="#3b62b0" opacity="0.85"/><rect x="17.0" y="37.4" width="1.0" height="1.1" rx="0.3" fill="#5a82c8" opacity="0.85"/><rect x="23.4" y="28.3" width="1.9" height="1.5" rx="0.6" fill="#2f4f9a" opacity="0.85"/><rect x="26.2" y="40.7" width="1.9" height="1.6" rx="0.6" fill="#5a82c8" opacity="0.85"/><rect x="41.7" y="30.4" width="1.4" height="1.3" rx="0.5" fill="#2f4f9a" opacity="0.85"/><rect x="14.0" y="36.5" width="1.0" height="0.8" rx="0.3" fill="#7ea6da" opacity="0.85"/><rect x="29.7" y="45.4" width="1.7" height="2.0" rx="0.6" fill="#1f3568" opacity="0.85"/><rect x="32.9" y="36.6" width="1.2" height="1.2" rx="0.4" fill="#5a82c8" opacity="0.85"/><rect x="22.7" y="28.0" width="2.2" height="2.0" rx="0.7" fill="#3b62b0" opacity="0.85"/><rect x="28.8" y="10.7" width="1.0" height="0.9" rx="0.3" fill="#7ea6da" opacity="0.85"/><rect x="11.6" y="22.2" width="1.2" height="1.0" rx="0.4" fill="#7ea6da" opacity="0.85"/><rect x="12.5" y="22.6" width="2.1" height="1.6" rx="0.7" fill="#3b62b0" opacity="0.85"/><rect x="39.8" y="18.0" width="1.1" height="0.8" rx="0.4" fill="#2f4f9a" opacity="0.85"/><rect x="12.9" y="33.6" width="1.3" height="1.5" rx="0.4" fill="#5a82c8" opacity="0.85"/><rect x="9.9" y="39.4" width="2.1" height="2.2" rx="0.7" fill="#7ea6da" opacity="0.85"/><rect x="23.1" y="43.7" width="1.9" height="1.5" rx="0.6" fill="#3b62b0" opacity="0.85"/><rect x="8.0" y="11.3" width="0.9" height="0.8" rx="0.3" fill="#3b62b0" opacity="0.85"/><rect x="10.0" y="37.8" width="0.9" height="0.9" rx="0.3" fill="#7ea6da" opacity="0.85"/><rect x="14.7" y="24.3" width="1.6" height="1.5" rx="0.5" fill="#1f3568" opacity="0.85"/><rect x="29.8" y="39.1" width="1.1" height="0.8" rx="0.4" fill="#5a82c8" opacity="0.85"/><rect x="29.3" y="45.8" width="1.9" height="2.0" rx="0.6" fill="#24407f" opacity="0.85"/><rect x="8.2" y="40.2" width="1.9" height="1.4" rx="0.6" fill="#24407f" opacity="0.85"/><rect x="30.3" y="15.5" width="2.3" height="1.9" rx="0.8" fill="#5a82c8" opacity="0.85"/><rect x="9.3" y="21.4" width="1.9" height="2.3" rx="0.6" fill="#1f3568" opacity="0.85"/><rect x="17.0" y="10.9" width="1.8" height="1.6" rx="0.6" fill="#1f3568" opacity="0.85"/><rect x="34.8" y="28.4" width="1.3" height="1.5" rx="0.4" fill="#1f3568" opacity="0.85"/><rect x="38.4" y="12.2" width="1.6" height="1.3" rx="0.5" fill="#3b62b0" opacity="0.85"/><rect x="16.0" y="36.5" width="2.2" height="2.6" rx="0.7" fill="#1f3568" opacity="0.85"/><rect x="14.5" y="23.4" width="1.7" height="2.0" rx="0.6" fill="#24407f" opacity="0.85"/><rect x="29.4" y="34.6" width="1.8" height="1.7" rx="0.6" fill="#7ea6da" opacity="0.85"/><rect x="36.6" y="34.8" width="2.1" height="2.5" rx="0.7" fill="#24407f" opacity="0.85"/><rect x="16.0" y="41.7" width="2.0" height="2.0" rx="0.7" fill="#24407f" opacity="0.85"/><rect x="10.6" y="42.7" width="1.1" height="0.8" rx="0.4" fill="#2f4f9a" opacity="0.85"/><rect x="29.1" y="15.0" width="2.3" height="1.6" rx="0.8" fill="#1f3568" opacity="0.85"/><rect x="9.4" y="34.6" width="1.8" height="1.3" rx="0.6" fill="#1f3568" opacity="0.85"/><rect x="9.6" y="40.7" width="2.0" height="2.2" rx="0.7" fill="#3b62b0" opacity="0.85"/><rect x="35.9" y="42.0" width="1.0" height="1.2" rx="0.3" fill="#1f3568" opacity="0.85"/><rect x="11.6" y="16.6" width="1.1" height="1.2" rx="0.4" fill="#2f4f9a" opacity="0.85"/><rect x="39.0" y="36.9" width="1.0" height="1.0" rx="0.3" fill="#1f3568" opacity="0.85"/><rect x="24.2" y="13.9" width="2.0" height="1.6" rx="0.7" fill="#1f3568" opacity="0.85"/><rect x="18.9" y="24.7" width="0.9" height="1.1" rx="0.3" fill="#5a82c8" opacity="0.85"/><rect x="9.6" y="37.1" width="2.2" height="2.1" rx="0.7" fill="#7ea6da" opacity="0.85"/><rect x="36.9" y="31.9" width="0.9" height="0.7" rx="0.3" fill="#24407f" opacity="0.85"/><rect x="25.6" y="12.6" width="1.6" height="1.5" rx="0.5" fill="#2f4f9a" opacity="0.85"/><rect x="15.4" y="40.9" width="1.0" height="0.8" rx="0.3" fill="#5a82c8" opacity="0.85"/><rect x="8.0" y="16.5" width="2.0" height="1.4" rx="0.7" fill="#2f4f9a" opacity="0.85"/><rect x="24.7" y="27.2" width="2.0" height="2.4" rx="0.7" fill="#3b62b0" opacity="0.85"/><rect x="28.1" y="44.4" width="1.6" height="1.9" rx="0.5" fill="#7ea6da" opacity="0.85"/><rect x="17.6" y="16.9" width="1.9" height="1.5" rx="0.6" fill="#24407f" opacity="0.85"/><rect x="39.9" y="37.4" width="1.6" height="1.6" rx="0.5" fill="#1f3568" opacity="0.85"/><rect x="11.6" y="21.1" width="1.0" height="1.2" rx="0.3" fill="#24407f" opacity="0.85"/><rect x="33.3" y="24.6" width="1.8" height="1.4" rx="0.6" fill="#5a82c8" opacity="0.85"/><rect x="16.9" y="42.3" width="1.6" height="1.9" rx="0.5" fill="#24407f" opacity="0.85"/><rect x="29.4" y="43.9" width="1.1" height="1.2" rx="0.4" fill="#7ea6da" opacity="0.85"/><rect x="33.6" y="32.9" width="1.4" height="1.3" rx="0.5" fill="#5a82c8" opacity="0.85"/><rect x="37.5" y="25.7" width="1.7" height="1.3" rx="0.6" fill="#5a82c8" opacity="0.85"/><rect x="22.9" y="37.6" width="1.7" height="1.5" rx="0.6" fill="#3b62b0" opacity="0.85"/><rect x="29.9" y="34.8" width="1.6" height="1.4" rx="0.5" fill="#5a82c8" opacity="0.85"/><rect x="31.9" y="40.2" width="1.1" height="1.3" rx="0.4" fill="#3b62b0" opacity="0.85"/><rect x="32.6" y="31.3" width="1.4" height="1.2" rx="0.5" fill="#3b62b0" opacity="0.85"/><rect x="14.4" y="45.1" width="1.9" height="1.5" rx="0.6" fill="#2f4f9a" opacity="0.85"/><rect x="30.4" y="16.2" width="1.1" height="1.2" rx="0.4" fill="#3b62b0" opacity="0.85"/><rect x="32.9" y="25.1" width="1.2" height="1.4" rx="0.4" fill="#1f3568" opacity="0.85"/><rect x="17.5" y="41.8" width="1.5" height="1.4" rx="0.5" fill="#2f4f9a" opacity="0.85"/><rect x="34.9" y="34.7" width="1.6" height="1.4" rx="0.5" fill="#1f3568" opacity="0.85"/><rect x="8.8" y="18.5" width="1.9" height="2.1" rx="0.6" fill="#2f4f9a" opacity="0.85"/><rect x="38.9" y="24.9" width="1.7" height="1.7" rx="0.6" fill="#1f3568" opacity="0.85"/><rect x="36.8" y="33.7" width="1.8" height="1.9" rx="0.6" fill="#1f3568" opacity="0.85"/><rect x="37.0" y="34.1" width="1.8" height="1.6" rx="0.6" fill="#24407f" opacity="0.85"/><rect x="16.8" y="34.9" width="2.2" height="2.3" rx="0.7" fill="#3b62b0" opacity="0.85"/><rect x="32.2" y="32.3" width="1.3" height="1.2" rx="0.4" fill="#24407f" opacity="0.85"/><rect x="8.7" y="40.8" width="1.6" height="1.9" rx="0.5" fill="#1f3568" opacity="0.85"/><rect x="14.2" y="33.2" width="2.0" height="2.2" rx="0.7" fill="#24407f" opacity="0.85"/><rect x="38.9" y="12.9" width="1.3" height="1.0" rx="0.4" fill="#3b62b0" opacity="0.85"/><rect x="34.6" y="43.8" width="1.6" height="1.8" rx="0.5" fill="#2f4f9a" opacity="0.85"/><rect x="23.5" y="16.6" width="1.6" height="1.6" rx="0.5" fill="#2f4f9a" opacity="0.85"/><rect x="36.2" y="28.3" width="1.5" height="1.2" rx="0.5" fill="#24407f" opacity="0.85"/><rect x="31.3" y="23.5" width="2.0" height="2.1" rx="0.7" fill="#2f4f9a" opacity="0.85"/><rect x="28.9" y="32.6" width="1.3" height="1.1" rx="0.4" fill="#24407f" opacity="0.85"/><rect x="8.5" y="24.5" width="1.5" height="1.5" rx="0.5" fill="#1f3568" opacity="0.85"/><rect x="27.7" y="13.0" width="1.3" height="1.6" rx="0.4" fill="#24407f" opacity="0.85"/><rect x="25.9" y="17.1" width="2.0" height="1.9" rx="0.7" fill="#24407f" opacity="0.85"/><rect x="13.6" y="43.4" width="1.0" height="0.8" rx="0.3" fill="#1f3568" opacity="0.85"/><rect x="29.8" y="35.7" width="2.0" height="1.8" rx="0.7" fill="#3b62b0" opacity="0.85"/><rect x="29.7" y="39.3" width="2.0" height="2.4" rx="0.7" fill="#24407f" opacity="0.85"/><rect x="33.8" y="33.0" width="2.0" height="1.7" rx="0.7" fill="#24407f" opacity="0.85"/><rect x="36.9" y="18.9" width="1.4" height="1.7" rx="0.5" fill="#5a82c8" opacity="0.85"/><rect x="31.1" y="26.8" width="2.0" height="1.8" rx="0.7" fill="#5a82c8" opacity="0.85"/><rect x="30.2" y="20.9" width="1.6" height="1.6" rx="0.5" fill="#7ea6da" opacity="0.85"/><rect x="30.4" y="22.4" width="2.2" height="1.6" rx="0.7" fill="#24407f" opacity="0.85"/><rect x="36.1" y="42.5" width="2.0" height="1.9" rx="0.7" fill="#3b62b0" opacity="0.85"/><rect x="19.7" y="30.6" width="1.8" height="2.1" rx="0.6" fill="#3b62b0" opacity="0.85"/><rect x="30.3" y="18.3" width="1.0" height="1.2" rx="0.3" fill="#3b62b0" opacity="0.85"/><rect x="14.3" y="25.7" width="2.0" height="2.3" rx="0.7" fill="#3b62b0" opacity="0.85"/><rect x="34.9" y="15.2" width="2.1" height="2.6" rx="0.7" fill="#7ea6da" opacity="0.85"/><rect x="11.1" y="42.4" width="1.7" height="1.9" rx="0.6" fill="#1f3568" opacity="0.85"/><rect x="14.7" y="34.6" width="1.6" height="1.8" rx="0.5" fill="#1f3568" opacity="0.85"/><rect x="30.8" y="13.3" width="1.1" height="0.9" rx="0.4" fill="#24407f" opacity="0.85"/><rect x="12.7" y="27.2" width="1.0" height="1.1" rx="0.3" fill="#24407f" opacity="0.85"/><rect x="31.8" y="18.1" width="1.1" height="1.3" rx="0.4" fill="#7ea6da" opacity="0.85"/><rect x="8.2" y="40.1" width="1.6" height="1.5" rx="0.5" fill="#7ea6da" opacity="0.85"/><rect x="18.1" y="26.2" width="1.5" height="1.1" rx="0.5" fill="#1f3568" opacity="0.85"/><rect x="29.7" y="32.5" width="0.9" height="0.7" rx="0.3" fill="#7ea6da" opacity="0.85"/><rect x="33.0" y="46.0" width="2.0" height="1.9" rx="0.7" fill="#2f4f9a" opacity="0.85"/><rect x="24.5" y="42.2" width="0.9" height="0.9" rx="0.3" fill="#1f3568" opacity="0.85"/><rect x="12.3" y="12.5" width="1.8" height="1.7" rx="0.6" fill="#5a82c8" opacity="0.85"/><rect x="25.9" y="37.5" width="1.2" height="1.0" rx="0.4" fill="#24407f" opacity="0.85"/><rect x="16.6" y="11.0" width="1.3" height="1.5" rx="0.4" fill="#5a82c8" opacity="0.85"/><rect x="21.7" y="27.6" width="1.3" height="1.1" rx="0.4" fill="#7ea6da" opacity="0.85"/><rect x="14.9" y="27.2" width="1.1" height="0.9" rx="0.4" fill="#3b62b0" opacity="0.85"/><rect x="18.2" y="30.7" width="1.8" height="1.6" rx="0.6" fill="#2f4f9a" opacity="0.85"/><rect x="26.8" y="24.0" width="1.7" height="1.4" rx="0.6" fill="#24407f" opacity="0.85"/><rect x="8.2" y="16.0" width="2.2" height="2.4" rx="0.7" fill="#7ea6da" opacity="0.85"/><rect x="10.0" y="27.5" width="1.7" height="1.7" rx="0.6" fill="#24407f" opacity="0.85"/><rect x="29.3" y="34.8" width="1.7" height="1.3" rx="0.6" fill="#1f3568" opacity="0.85"/><rect x="9.3" y="32.4" width="1.8" height="1.3" rx="0.6" fill="#3b62b0" opacity="0.85"/><rect x="14.2" y="10.4" width="2.0" height="1.4" rx="0.7" fill="#1f3568" opacity="0.85"/><rect x="37.6" y="14.1" width="1.3" height="1.1" rx="0.4" fill="#1f3568" opacity="0.85"/><rect x="18.3" y="24.6" width="1.3" height="1.3" rx="0.4" fill="#24407f" opacity="0.85"/><rect x="27.7" y="42.8" width="1.6" height="1.1" rx="0.5" fill="#7ea6da" opacity="0.85"/><rect x="12.0" y="39.0" width="1.7" height="1.6" rx="0.6" fill="#24407f" opacity="0.85"/><rect x="8.5" y="23.3" width="1.7" height="2.1" rx="0.6" fill="#1f3568" opacity="0.85"/><rect x="24.2" y="24.3" width="1.0" height="1.0" rx="0.3" fill="#1f3568" opacity="0.85"/><rect x="38.5" y="32.2" width="1.5" height="1.6" rx="0.5" fill="#2f4f9a" opacity="0.85"/><rect x="12.1" y="44.8" width="1.0" height="0.8" rx="0.3" fill="#2f4f9a" opacity="0.85"/><rect x="8.6" y="35.6" width="1.2" height="1.3" rx="0.4" fill="#1f3568" opacity="0.85"/><rect x="39.4" y="22.5" width="1.9" height="2.2" rx="0.6" fill="#1f3568" opacity="0.85"/><rect x="32.8" y="12.1" width="1.8" height="1.7" rx="0.6" fill="#1f3568" opacity="0.85"/><rect x="30.8" y="41.9" width="2.2" height="2.3" rx="0.7" fill="#2f4f9a" opacity="0.85"/><rect x="8.4" y="9.5" width="1.8" height="1.3" rx="0.6" fill="#7ea6da" opacity="0.85"/><rect x="18.6" y="36.0" width="1.1" height="1.1" rx="0.4" fill="#24407f" opacity="0.85"/><rect x="18.8" y="44.1" width="1.9" height="2.0" rx="0.6" fill="#24407f" opacity="0.85"/><rect x="12.9" y="38.5" width="1.4" height="1.1" rx="0.5" fill="#1f3568" opacity="0.85"/><rect x="35.3" y="26.6" width="2.0" height="2.3" rx="0.7" fill="#24407f" opacity="0.85"/><rect x="34.7" y="30.0" width="1.3" height="1.3" rx="0.4" fill="#2f4f9a" opacity="0.85"/><rect x="30.1" y="38.7" width="1.7" height="1.8" rx="0.6" fill="#7ea6da" opacity="0.85"/><rect x="8.5" y="14.6" width="2.1" height="1.9" rx="0.7" fill="#7ea6da" opacity="0.85"/><rect x="38.2" y="22.9" width="1.9" height="2.0" rx="0.6" fill="#7ea6da" opacity="0.85"/><rect x="16.0" y="25.7" width="1.9" height="1.5" rx="0.6" fill="#5a82c8" opacity="0.85"/><rect x="22.4" y="30.7" width="2.0" height="1.7" rx="0.7" fill="#2f4f9a" opacity="0.85"/><rect x="12.8" y="42.0" width="2.3" height="1.9" rx="0.8" fill="#3b62b0" opacity="0.85"/><rect x="36.9" y="38.9" width="1.9" height="1.6" rx="0.6" fill="#24407f" opacity="0.85"/><rect x="10.9" y="29.5" width="2.0" height="2.2" rx="0.7" fill="#3b62b0" opacity="0.85"/><rect x="32.6" y="45.3" width="1.3" height="1.4" rx="0.4" fill="#2f4f9a" opacity="0.85"/><rect x="23.8" y="16.6" width="1.3" height="1.4" rx="0.4" fill="#2f4f9a" opacity="0.85"/><rect x="23.6" y="12.2" width="2.0" height="1.7" rx="0.7" fill="#2f4f9a" opacity="0.85"/><rect x="27.7" y="42.2" width="2.1" height="1.8" rx="0.7" fill="#7ea6da" opacity="0.85"/><rect x="25.2" y="16.5" width="1.2" height="0.9" rx="0.4" fill="#2f4f9a" opacity="0.85"/><rect x="31.8" y="22.4" width="1.7" height="1.8" rx="0.6" fill="#24407f" opacity="0.85"/><rect x="37.1" y="18.1" width="2.2" height="1.9" rx="0.7" fill="#24407f" opacity="0.85"/><rect x="11.6" y="32.4" width="2.0" height="1.7" rx="0.7" fill="#3b62b0" opacity="0.85"/><rect x="9.0" y="19.4" width="1.7" height="1.3" rx="0.6" fill="#2f4f9a" opacity="0.85"/><rect x="41.7" y="41.0" width="1.6" height="1.3" rx="0.5" fill="#7ea6da" opacity="0.85"/></g><path d="M9.8 27.4 L17 25.6 L29 27.2 L40.6 22.6 L41.8 29.4 L31 34.8 L22 35 L11 34.2 Z" fill="#8b5535"/><path d="M17 25.6 L29 27.2 L27.5 30.5 L15.5 30 Z" fill="#9a6240"/><rect x="22.2" y="26.8" width="2.5" height="3.6" rx="0.6" fill="#14100e"/></g></svg>
<svg style="position:absolute;left:1785.20px;top:18.60px;" width="20" height="20" viewBox="0 0 24 24" fill="none" stroke="#4b5563" stroke-width="1.8" stroke-linecap="round" stroke-linejoin="round"><path d="M12 3H5a2 2 0 0 0-2 2v14a2 2 0 0 0 2 2h14a2 2 0 0 0 2-2v-7"/><path d="M18.375 2.625a1 1 0 0 1 3 3l-9.013 9.014a2 2 0 0 1-.853.505l-2.873.84a.5.5 0 0 1-.62-.62l.84-2.873a2 2 0 0 1 .506-.852z"/></svg>
<span class="t" style="left:388.50px;top:34px;font-size:14px;color:#777;letter-spacing:-0.110px;">Search something here...</span>
<span class="t" style="left:1722.14px;top:22px;font-size:16px;color:#000;font-weight:700;transform:scaleX(0.8605);transform-origin:0 0;">123 123</span>
<span class="t" style="left:1699.70px;top:47px;font-size:15px;color:#868c98;letter-spacing:0.348px;">No designation set</span>
</header>
<main>
<div style="position:absolute;left:1444px;top:121px;width:186px;height:47px;border:1px solid #e8e8e8;border-radius:25px;background:#fff;box-shadow:0 10px 15px -3px rgba(0,0,0,0.1),0 4px 6px -4px rgba(0,0,0,0.1);"></div>
<svg style="position:absolute;left:1576.00px;top:134.00px;" width="24" height="24" viewBox="0 0 24 24" fill="none" stroke="#555" stroke-width="2" stroke-linecap="round" stroke-linejoin="round"><path d="m6 9 6 6 6-6"/></svg>
<div style="position:absolute;left:1646px;top:122px;width:196px;height:48px;border-radius:24px;background:#1e1b4b;box-shadow:0 10px 15px -3px rgba(0,0,0,0.12),0 4px 6px -4px rgba(0,0,0,0.12);"></div>
<div style="position:absolute;left:339px;top:211px;width:362px;height:198px;border:1px solid #e6e6e6;border-radius:16px;background:#fff;box-shadow:0 4px 6px -1px rgba(0,0,0,0.1),0 2px 4px -2px rgba(0,0,0,0.1);"></div>
<div style="position:absolute;left:352px;top:230px;width:32px;height:32px;border-radius:50%;background:#f3f4f6;"></div>
<svg style="position:absolute;left:356.00px;top:234.00px;" width="24" height="24" viewBox="0 0 24 24" fill="none" stroke="#0a0a0a" stroke-width="2" stroke-linecap="round" stroke-linejoin="round"><path d="M18 21a8 8 0 0 0-16 0"/><circle cx="10" cy="8" r="5"/><path d="M22 20c0-3.37-2-6.5-4-8a5 5 0 0 0-.45-8.3"/></svg>
<div style="position:absolute;left:641px;top:234px;width:49px;height:24px;border-radius:12px;background:#ecfdf5;"></div>
<div style="position:absolute;left:719px;top:211px;width:362px;height:198px;border:1px solid #e6e6e6;border-radius:16px;background:#fff;box-shadow:0 4px 6px -1px rgba(0,0,0,0.1),0 2px 4px -2px rgba(0,0,0,0.1);"></div>
<div style="position:absolute;left:732px;top:230px;width:32px;height:32px;border-radius:50%;background:#f3f4f6;"></div>
<svg style="position:absolute;left:736.00px;top:234.00px;" width="24" height="24" viewBox="0 0 24 24" fill="none" stroke="#0a0a0a" stroke-width="2" stroke-linecap="round" stroke-linejoin="round"><path d="M16 21v-2a4 4 0 0 0-4-4H6a4 4 0 0 0-4 4v2"/><circle cx="9" cy="7" r="4"/><line x1="19" x2="19" y1="8" y2="14"/><line x1="22" x2="16" y1="11" y2="11"/></svg>
<div style="position:absolute;left:1021px;top:234px;width:49px;height:24px;border-radius:12px;background:#ecfdf5;"></div>
<div style="position:absolute;left:1099px;top:211px;width:362px;height:198px;border:1px solid #e6e6e6;border-radius:16px;background:#fff;box-shadow:0 4px 6px -1px rgba(0,0,0,0.1),0 2px 4px -2px rgba(0,0,0,0.1);"></div>
<div style="position:absolute;left:1112px;top:230px;width:32px;height:32px;border-radius:50%;background:#f3f4f6;"></div>
<svg style="position:absolute;left:1116.00px;top:234.00px;" width="24" height="24" viewBox="0 0 24 24" fill="none" stroke="#0a0a0a" stroke-width="2" stroke-linecap="round" stroke-linejoin="round"><path d="M16 21v-2a4 4 0 0 0-4-4H6a4 4 0 0 0-4 4v2"/><circle cx="9" cy="7" r="4"/><line x1="22" x2="16" y1="11" y2="11"/></svg>
<div style="position:absolute;left:1398px;top:234px;width:52px;height:24px;border-radius:12px;background:#fef2f2;"></div>
<div style="position:absolute;left:1479px;top:211px;width:362px;height:198px;border:1px solid #e6e6e6;border-radius:16px;background:#fff;box-shadow:0 4px 6px -1px rgba(0,0,0,0.1),0 2px 4px -2px rgba(0,0,0,0.1);"></div>
<div style="position:absolute;left:1492px;top:230px;width:32px;height:32px;border-radius:50%;background:#f3f4f6;"></div>
<svg style="position:absolute;left:1496.00px;top:234.00px;" width="24" height="24" viewBox="0 0 24 24" fill="none" stroke="#0a0a0a" stroke-width="2" stroke-linecap="round" stroke-linejoin="round"><path d="M12 12h.01"/><path d="M16 6V4a2 2 0 0 0-2-2h-4a2 2 0 0 0-2 2v2"/><path d="M22 13a18.15 18.15 0 0 1-20 0"/><rect width="20" height="14" x="2" y="6" rx="2"/></svg>
<div style="position:absolute;left:1786px;top:234px;width:44px;height:24px;border-radius:12px;background:#ecfdf5;"></div>
<div style="position:absolute;left:339px;top:427px;width:362px;height:198px;border:1px solid #e6e6e6;border-radius:16px;background:#fff;box-shadow:0 4px 6px -1px rgba(0,0,0,0.1),0 2px 4px -2px rgba(0,0,0,0.1);"></div>
<div style="position:absolute;left:352px;top:446px;width:32px;height:32px;border-radius:50%;background:#f3f4f6;"></div>
<svg style="position:absolute;left:356.00px;top:450.00px;" width="24" height="24" viewBox="0 0 24 24" fill="none" stroke="#0a0a0a" stroke-width="2" stroke-linecap="round" stroke-linejoin="round"><path d="M6 9H4.5a2.5 2.5 0 0 1 0-5H6"/><path d="M18 9h1.5a2.5 2.5 0 0 0 0-5H18"/><path d="M4 22h16"/><path d="M10 14.66V17c0 .55-.47.98-.97 1.21C7.85 18.75 7 20.24 7 22"/><path d="M14 14.66V17c0 .55.47.98.97 1.21C16.15 18.75 17 20.24 17 22"/><path d="M18 2H6v7a6 6 0 0 0 12 0V2Z"/></svg>
<div style="position:absolute;left:642px;top:450px;width:48px;height:24px;border-radius:12px;background:#ecfdf5;"></div>
<div style="position:absolute;left:719px;top:427px;width:362px;height:198px;border:1px solid #e6e6e6;border-radius:16px;background:#fff;box-shadow:0 4px 6px -1px rgba(0,0,0,0.1),0 2px 4px -2px rgba(0,0,0,0.1);"></div>
<div style="position:absolute;left:732px;top:446px;width:32px;height:32px;border-radius:50%;background:#f3f4f6;"></div>
<svg style="position:absolute;left:736.00px;top:450.00px;" width="24" height="24" viewBox="0 0 24 24" fill="none" stroke="#0a0a0a" stroke-width="2" stroke-linecap="round" stroke-linejoin="round"><circle cx="12" cy="12" r="10"/><polyline points="12 6 12 12 16 14"/></svg>
<div style="position:absolute;left:1025px;top:450px;width:45px;height:24px;border-radius:12px;background:#ecfdf5;"></div>
<div style="position:absolute;left:1099px;top:427px;width:362px;height:198px;border:1px solid #e6e6e6;border-radius:16px;background:#fff;box-shadow:0 4px 6px -1px rgba(0,0,0,0.1),0 2px 4px -2px rgba(0,0,0,0.1);"></div>
<div style="position:absolute;left:1112px;top:446px;width:32px;height:32px;border-radius:50%;background:#f3f4f6;"></div>
<svg style="position:absolute;left:1116.00px;top:450.00px;" width="24" height="24" viewBox="0 0 24 24" fill="none" stroke="#0a0a0a" stroke-width="2" stroke-linecap="round" stroke-linejoin="round"><path d="M10 12h4"/><path d="M10 8h4"/><path d="M14 21v-3a2 2 0 0 0-4 0v3"/><path d="M6 10H4a2 2 0 0 0-2 2v7a2 2 0 0 0 2 2h16a2 2 0 0 0 2-2V9a2 2 0 0 0-2-2h-2"/><path d="M6 21V5a2 2 0 0 1 2-2h8a2 2 0 0 1 2 2v16"/></svg>
<div style="position:absolute;left:1402px;top:450px;width:48px;height:24px;border-radius:12px;background:#ecfdf5;"></div>
<div style="position:absolute;left:1479px;top:427px;width:362px;height:198px;border:1px solid #e6e6e6;border-radius:16px;background:#fff;box-shadow:0 4px 6px -1px rgba(0,0,0,0.1),0 2px 4px -2px rgba(0,0,0,0.1);"></div>
<div style="position:absolute;left:1492px;top:446px;width:32px;height:32px;border-radius:50%;background:#f3f4f6;"></div>
<svg style="position:absolute;left:1496.00px;top:450.00px;" width="24" height="24" viewBox="0 0 24 24" fill="none" stroke="#0a0a0a" stroke-width="2" stroke-linecap="round" stroke-linejoin="round"><line x1="12" x2="12" y1="2" y2="22"/><path d="M17 5H9.5a3.5 3.5 0 0 0 0 7h5a3.5 3.5 0 0 1 0 7H6"/></svg>
<div style="position:absolute;left:1782px;top:450px;width:48px;height:24px;border-radius:12px;background:#ecfdf5;"></div>
<div style="position:absolute;left:984px;top:687px;width:180px;height:40px;border-radius:20px;background:#1e1b4b;"></div>
<div style="position:absolute;left:359px;top:747px;width:803px;height:700px;border:1px solid #e6e6e6;border-radius:16px;background:#fff;box-shadow:0 20px 25px -5px rgba(0,0,0,0.1),0 8px 10px -6px rgba(0,0,0,0.1);"></div>
<div style="position:absolute;left:380px;top:788px;width:180px;height:36px;border-radius:18px;background:#1e1b4b;"></div>
<svg style="position:absolute;left:528.00px;top:798.00px;" width="16" height="16" viewBox="0 0 24 24" fill="none" stroke="#5a577e" stroke-width="2" stroke-linecap="round" stroke-linejoin="round"><path d="m6 9 6 6 6-6"/></svg>
<div style="position:absolute;left:963px;top:788px;width:178px;height:34px;border:1px solid #e0e0e0;border-radius:18px;background:#fff;box-shadow:0 1px 2px rgba(0,0,0,0.07);"></div>
<svg style="position:absolute;left:1110.00px;top:798.00px;" width="16" height="16" viewBox="0 0 24 24" fill="none" stroke="#a3a3a3" stroke-width="2" stroke-linecap="round" stroke-linejoin="round"><path d="m6 9 6 6 6-6"/></svg>
<div style="position:absolute;left:380px;top:844px;width:761px;height:200px;border:1px solid #e5e5e5;border-radius:16px;background:#fff;box-shadow:0 1px 3px rgba(0,0,0,0.06);"></div>
<div style="position:absolute;left:473px;top:900.5px;width:638px;height:1px;background:#f1f1f1;"></div>
<div style="position:absolute;left:1228px;top:753px;width:288px;height:148px;border:1px solid #5c5c5c;border-radius:13px;background:#fff;"></div>
<div style="position:absolute;left:1534px;top:753px;width:287px;height:148px;border:1px solid #5c5c5c;border-radius:13px;background:#fff;"></div>
<div style="position:absolute;left:1228px;top:927px;width:593px;height:100px;border:1px solid #5c5c5c;border-radius:13px;background:#fff;"></div>
<span class="t" style="left:339.85px;top:136px;font-size:22.5px;color:#0b0b0f;-webkit-text-stroke:0.7px #0b0b0f;transform:scaleX(1.0986);transform-origin:0 0;">Employee Management</span>
<span class="t" style="left:1476.82px;top:135px;font-size:24px;color:#5a5a5a;-webkit-text-stroke:0.45px #5a5a5a;letter-spacing:0.334px;">Monthly</span>
<span class="t" style="left:1679.15px;top:135px;font-size:24px;color:#fff;-webkit-text-stroke:0.7px #fff;letter-spacing:-0.120px;">View Details</span>
<span class="t" style="left:432.85px;top:229px;font-size:15px;color:#050505;-webkit-text-stroke:0.5px #050505;letter-spacing:0.413px;">Current Employees</span>
<span class="t" style="left:431.60px;top:251px;font-size:14px;color:#111;letter-spacing:0.150px;">Improved from last month</span>
<span class="t" style="left:649.42px;top:239px;font-size:15px;color:#047857;-webkit-text-stroke:0.25px #047857;transform:scaleX(0.9493);transform-origin:0 0;">2.5%</span>
<span class="t" style="left:351.61px;top:319px;font-size:30px;color:#0a0a0a;transform:scaleX(0.8914);transform-origin:0 0;">6941</span>
<span class="t" style="left:811.85px;top:229px;font-size:15px;color:#050505;-webkit-text-stroke:0.5px #050505;letter-spacing:0.414px;">New Hires</span>
<span class="t" style="left:811.60px;top:251px;font-size:14px;color:#111;letter-spacing:0.150px;">Improved from last month</span>
<span class="t" style="left:1029.42px;top:239px;font-size:15px;color:#047857;-webkit-text-stroke:0.25px #047857;transform:scaleX(0.9493);transform-origin:0 0;">4.8%</span>
<span class="t" style="left:731.41px;top:319px;font-size:30px;color:#0a0a0a;transform:scaleX(1.0852);transform-origin:0 0;">640</span>
<span class="t" style="left:1190.35px;top:229px;font-size:15px;color:#050505;-webkit-text-stroke:0.5px #050505;letter-spacing:0.209px;">Resigned Employees</span>
<span class="t" style="left:1190.10px;top:251px;font-size:14px;color:#111;letter-spacing:0.150px;">Improved from last month</span>
<span class="t" style="left:1406.42px;top:239px;font-size:15px;color:#c91414;-webkit-text-stroke:0.25px #c91414;transform:scaleX(0.9048);transform-origin:0 0;">-1.2%</span>
<span class="t" style="left:1111.44px;top:319px;font-size:30px;color:#0a0a0a;transform:scaleX(1.0604);transform-origin:0 0;">580</span>
<span class="t" style="left:1575.05px;top:229px;font-size:15px;color:#050505;-webkit-text-stroke:0.5px #050505;letter-spacing:0.400px;">Active Projects</span>
<span class="t" style="left:1573.80px;top:251px;font-size:14px;color:#111;letter-spacing:0.150px;">Improved from last month</span>
<span class="t" style="left:1794.42px;top:239px;font-size:15px;color:#047857;-webkit-text-stroke:0.25px #047857;transform:scaleX(0.8017);transform-origin:0 0;">3.1%</span>
<span class="t" style="left:1491.54px;top:319px;font-size:30px;color:#0a0a0a;transform:scaleX(0.9622);transform-origin:0 0;">-78</span>
<span class="t" style="left:432.35px;top:445px;font-size:15px;color:#050505;-webkit-text-stroke:0.5px #050505;letter-spacing:0.366px;">Employee Recognition</span>
<span class="t" style="left:432.10px;top:467px;font-size:14px;color:#111;letter-spacing:0.150px;">Improved from last month</span>
<span class="t" style="left:650.42px;top:455px;font-size:15px;color:#047857;-webkit-text-stroke:0.25px #047857;transform:scaleX(0.9198);transform-origin:0 0;">6.7%</span>
<span class="t" style="left:351.61px;top:535px;font-size:30px;color:#0a0a0a;transform:scaleX(0.8914);transform-origin:0 0;">6941</span>
<span class="t" style="left:815.05px;top:445px;font-size:15px;color:#050505;-webkit-text-stroke:0.5px #050505;letter-spacing:0.350px;">Avg Work Hours</span>
<span class="t" style="left:813.80px;top:467px;font-size:14px;color:#111;letter-spacing:0.150px;">Improved from last month</span>
<span class="t" style="left:1032.57px;top:455px;font-size:15px;color:#047857;-webkit-text-stroke:0.25px #047857;transform:scaleX(0.8565);transform-origin:0 0;">1.9%</span>
<span class="t" style="left:730.63px;top:535px;font-size:30px;color:#0a0a0a;transform:scaleX(0.9329);transform-origin:0 0;">106</span>
<span class="t" style="left:1192.35px;top:445px;font-size:15px;color:#050505;-webkit-text-stroke:0.5px #050505;letter-spacing:0.340px;">Remote Employees</span>
<span class="t" style="left:1192.10px;top:467px;font-size:14px;color:#111;letter-spacing:0.150px;">Improved from last month</span>
<span class="t" style="left:1410.42px;top:455px;font-size:15px;color:#047857;-webkit-text-stroke:0.25px #047857;transform:scaleX(0.9198);transform-origin:0 0;">3.9%</span>
<span class="t" style="left:1111.44px;top:535px;font-size:30px;color:#0a0a0a;transform:scaleX(1.0604);transform-origin:0 0;">850</span>
<span class="t" style="left:1572.05px;top:445px;font-size:15px;color:#050505;-webkit-text-stroke:0.5px #050505;letter-spacing:0.697px;">Payroll Growth</span>
<span class="t" style="left:1571.80px;top:467px;font-size:14px;color:#111;letter-spacing:0.150px;">Improved from last month</span>
<span class="t" style="left:1790.42px;top:455px;font-size:15px;color:#047857;-webkit-text-stroke:0.25px #047857;transform:scaleX(0.9198);transform-origin:0 0;">4.3%</span>
<span class="t" style="left:1491.41px;top:535px;font-size:30px;color:#0a0a0a;transform:scaleX(1.0852);transform-origin:0 0;">640</span>
<span class="t" style="left:359.06px;top:698px;font-size:22.5px;color:#0b0b0f;-webkit-text-stroke:0.7px #0b0b0f;transform:scaleX(1.0937);transform-origin:0 0;">Recruitment &amp; Employee Engagement</span>
<span class="t" style="left:1031.55px;top:700px;font-size:16px;color:#fff;-webkit-text-stroke:0.3px #fff;letter-spacing:-0.141px;">View Details</span>
<span class="t" style="left:396.93px;top:799px;font-size:15.5px;color:#fff;-webkit-text-stroke:0.25px #fff;letter-spacing:0.031px;">Job Openings</span>
<span class="t" style="left:979.57px;top:799px;font-size:15px;color:#050505;-webkit-text-stroke:0.35px #050505;letter-spacing:0.853px;">Monthly</span>
<span class="t" style="left:431.50px;top:896px;font-size:12px;color:#555;letter-spacing:-1.244px;">100%</span>
<span class="t" style="left:1228.77px;top:691px;font-size:22.5px;color:#0b0b0f;-webkit-text-stroke:0.7px #0b0b0f;transform:scaleX(1.0834);transform-origin:0 0;">Financial &amp; Sales Statistic</span>
<span class="t" style="left:1254.10px;top:783px;font-size:16px;color:#4b5563;letter-spacing:-0.122px;">Total Earnings</span>
<span class="t" style="left:1559.30px;top:781px;font-size:14px;color:#4b5563;letter-spacing:-0.312px;">Total Expenses</span>
<span class="t" style="left:1252.90px;top:846px;font-size:30px;color:#000;font-weight:700;transform:scaleX(1.0483);transform-origin:0 0;">€8,593.65</span>
<span class="t" style="left:1558.10px;top:846px;font-size:30px;color:#000;font-weight:700;transform:scaleX(1.0732);transform-origin:0 0;">€3,570.50</span>
<span class="t" style="left:1253.00px;top:956px;font-size:30px;color:#000;font-weight:700;letter-spacing:-0.549px;">Total Sales</span>
<svg style="position:absolute;left:0;top:0" width="1878" height="964" viewBox="0 0 1878 964"><clipPath id="cc0"><rect x="430" y="211" width="240" height="187"/></clipPath><polygon points="432.0,367.0 479.5,342.5 527.0,355.2 574.8,336.4 622.2,330.0 670.0,342.5 670.0,398 432.0,398" fill="#e2f6ee"/><polyline points="432.0,367.0 479.5,342.5 527.0,355.2 574.8,336.4 622.2,330.0 670.0,342.5" fill="none" stroke="#059669" stroke-width="2" stroke-linejoin="round" clip-path="url(#cc0)"/><clipPath id="cc1"><rect x="849.5" y="211" width="200.5" height="187"/></clipPath><polygon points="851.5,398.5 952.4,371.0 1001.2,377.1 1050.0,359.9 1050.0,398 851.5,398" fill="#e2f6ee"/><polyline points="851.5,398.5 952.4,371.0 1001.2,377.1 1050.0,359.9" fill="none" stroke="#059669" stroke-width="2" stroke-linejoin="round" clip-path="url(#cc1)"/><clipPath id="cc2"><rect x="1182" y="211" width="247.5" height="187"/></clipPath><polygon points="1184.0,356.6 1232.7,375.9 1282.7,325.0 1331.0,337.8 1380.3,305.8 1429.5,350.5 1429.5,398 1184.0,398" fill="#e2f6ee"/><polyline points="1184.0,356.6 1232.7,375.9 1282.7,325.0 1331.0,337.8 1380.3,305.8 1429.5,350.5" fill="none" stroke="#059669" stroke-width="2" stroke-linejoin="round" clip-path="url(#cc2)"/><clipPath id="cc3"><rect x="1552.5" y="211" width="257.5" height="187"/></clipPath><polygon points="1554.5,388.2 1605.4,378.4 1655.8,362.8 1707.0,348.4 1758.3,334.9 1810.0,339.4 1810.0,398 1554.5,398" fill="#e2f6ee"/><polyline points="1554.5,388.2 1605.4,378.4 1655.8,362.8 1707.0,348.4 1758.3,334.9 1810.0,339.4" fill="none" stroke="#059669" stroke-width="2" stroke-linejoin="round" clip-path="url(#cc3)"/><clipPath id="cc4"><rect x="484.6" y="427" width="185.39999999999998" height="187"/></clipPath><polygon points="486.6,614.5 526.8,598.5 574.8,574.7 622.7,571.0 670.0,559.9 670.0,614 486.6,614" fill="#e2f6ee"/><polyline points="486.6,614.5 526.8,598.5 574.8,574.7 622.7,571.0 670.0,559.9" fill="none" stroke="#059669" stroke-width="2" stroke-linejoin="round" clip-path="url(#cc4)"/><clipPath id="cc5"><rect x="797" y="427" width="253" height="187"/></clipPath><polygon points="799.0,534.9 849.0,539.0 900.0,531.2 949.0,525.5 999.5,529.6 1050.0,523.4 1050.0,614 799.0,614" fill="#e2f6ee"/><polyline points="799.0,534.9 849.0,539.0 900.0,531.2 949.0,525.5 999.5,529.6 1050.0,523.4" fill="none" stroke="#059669" stroke-width="2" stroke-linejoin="round" clip-path="url(#cc5)"/><clipPath id="cc6"><rect x="1182" y="427" width="247.5" height="187"/></clipPath><polygon points="1184.0,580.0 1331.0,544.0 1380.3,527.5 1429.5,516.0 1429.5,614 1184.0,614" fill="#e2f6ee"/><polyline points="1184.0,580.0 1331.0,544.0 1380.3,527.5 1429.5,516.0" fill="none" stroke="#059669" stroke-width="2" stroke-linejoin="round" clip-path="url(#cc6)"/><clipPath id="cc7"><rect x="1564.8" y="427" width="245.20000000000005" height="187"/></clipPath><polygon points="1566.8,562.8 1616.0,549.3 1664.0,538.2 1713.2,532.9 1762.4,523.4 1810.0,516.0 1810.0,614 1566.8,614" fill="#e2f6ee"/><polyline points="1566.8,562.8 1616.0,549.3 1664.0,538.2 1713.2,532.9 1762.4,523.4 1810.0,516.0" fill="none" stroke="#059669" stroke-width="2" stroke-linejoin="round" clip-path="url(#cc7)"/></svg>
<svg style="position:absolute;left:0;top:0" width="1878" height="964" viewBox="0 0 1878 964"><path d="M644 966 C646 958 650 956.5 652.5 957.5 C656 959 659 963 661 966 Z" fill="#ede9fe" stroke="#8b5cf6" stroke-width="2.8"/><circle cx="646.4" cy="959.6" r="3" fill="none" stroke="#8b5cf6" stroke-width="1.1"/><path d="M866 966 C872 952 876 938.5 882.5 938.5 C889 938.5 895 952 901 966 Z" fill="#ede9fe" stroke="#8b5cf6" stroke-width="2.8"/><circle cx="878.8" cy="940.4" r="3" fill="none" stroke="#8b5cf6" stroke-width="1.1"/></svg>
</main>
<div>
<div style="position:absolute;left:1863px;top:0px;width:15px;height:964px;background:#fcfcfc;"></div>
<div style="position:absolute;left:1866px;top:19px;width:9px;height:465px;background:#8b8b8b;border-radius:4.5px;"></div>
<svg style="position:absolute;left:1863px;top:0" width="15" height="964"><path d="M3 12 L7.5 7 L12 12 Z" fill="#8b8b8b"/><path d="M3 951 L7.5 956 L12 951 Z" fill="#8b8b8b"/></svg>
<div style="position:absolute;left:0px;top:0px;width:1878px;height:1px;background:#06060f;"></div>
<div style="position:absolute;left:0px;top:963px;width:1878px;height:1px;background:#06060f;"></div>
</div>
</div></body></html>
